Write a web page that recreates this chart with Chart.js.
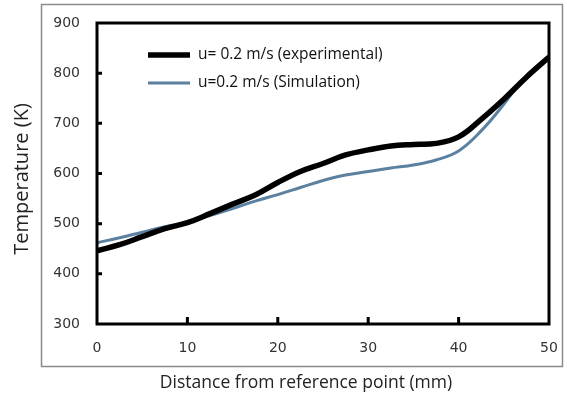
<!DOCTYPE html>
<html>
<head>
<meta charset="utf-8">
<script src="https://cdn.jsdelivr.net/npm/chart.js@4.4.0/dist/chart.umd.min.js"></script>
<style>
html, body { margin: 0; padding: 0; background: #fff; }
</style>
</head>
<body>
<canvas id="tempChart" width="567" height="401"></canvas>
<script>
// data
const distanceExp = [0, 2.5, 5, 7.5, 10, 12.5, 15, 17.5, 20, 22.5, 25, 27.5, 30, 32.5, 35, 37.5, 40, 42.5, 45, 47.5, 50];
const tempExp = [446, 458, 474, 490, 502, 520, 539, 557, 582, 604, 620, 637, 647, 655, 658, 660, 673, 708, 748, 792, 832];

const distanceSim = [0, 2.5, 5, 7.5, 10, 12.5, 15, 17.5, 20, 22.5, 25, 27.5, 30, 32.5, 35, 37.5, 40, 42.5, 45, 46.5];
const tempSim = [462, 472, 483, 494, 503, 516, 530, 545, 558, 572, 586, 597, 604, 611, 617, 627, 645, 685, 738, 775];

const xTicks = [0, 10, 20, 30, 40, 50];
const yTicks = [300, 400, 500, 600, 700, 800, 900];

const labels = ['u= 0.2 m/s (experimental)', 'u=0.2 m/s (Simulation)'];
const xTitle = 'Distance from reference point (mm)';
const yTitle = 'Temperature (K)';

function toPoints(xs, ys) {
    return xs.map((x, i) => ({ x: x, y: ys[i] }));
}

// grey outer frame
const framePlugin = {
    id: 'frame',
    beforeDraw(chart) {
        const ctx = chart.ctx;
        ctx.save();
        ctx.strokeStyle = '#8a8a8a';
        ctx.lineWidth = 1.5;
        ctx.strokeRect(41.5, 4.5, 521, 362);
        ctx.restore();
    }
};

// thick box round the plot and inward tick marks
const boxPlugin = {
    id: 'box',
    afterDatasetsDraw(chart) {
        const ctx = chart.ctx;
        const a = chart.chartArea;
        const xs = chart.scales.x;
        const ys = chart.scales.y;
        ctx.save();
        ctx.strokeStyle = '#000';
        ctx.lineWidth = 3;
        ctx.strokeRect(a.left, a.top, a.right - a.left, a.bottom - a.top);
        ctx.beginPath();
        yTicks.slice(1, -1).forEach(v => {
            const y = ys.getPixelForValue(v);
            ctx.moveTo(a.left, y);
            ctx.lineTo(a.left + 5, y);
        });
        xTicks.slice(1, -1).forEach(v => {
            const x = xs.getPixelForValue(v);
            ctx.moveTo(x, a.bottom);
            ctx.lineTo(x, a.bottom - 7);
        });
        ctx.stroke();
        ctx.restore();
    }
};

// legend inside the plot and the two axis titles (centred on the frame, not the plot)
const textPlugin = {
    id: 'texts',
    afterDraw(chart) {
        const ctx = chart.ctx;
        ctx.save();
        ctx.font = '15.5px "Open Sans"';
        ctx.textBaseline = 'middle';
        chart.data.datasets.forEach((ds, i) => {
            const y = 55 + i * 28;
            ctx.strokeStyle = ds.borderColor;
            ctx.lineWidth = ds.borderWidth;
            ctx.beginPath();
            ctx.moveTo(148, y);
            ctx.lineTo(190, y);
            ctx.stroke();
            ctx.fillStyle = '#111';
            ctx.fillText(ds.label, 198, y);
        });

        ctx.fillStyle = '#222';
        ctx.textAlign = 'center';
        ctx.font = '17.5px "Open Sans"';
        ctx.fillText(xTitle, 306, 383);

        ctx.translate(22, 179);
        ctx.rotate(-Math.PI / 2);
        ctx.font = '20px "Open Sans"';
        ctx.fillText(yTitle, 0, 0);
        ctx.restore();
    }
};

const tickFont = { family: 'DejaVu Sans', size: 14 };

const ctx = document.getElementById('tempChart').getContext('2d');
const tempChart = new Chart(ctx, {
    type: 'line',
    data: {
        datasets: [{
            label: labels[0],
            data: toPoints(distanceExp, tempExp),
            borderColor: '#000000',
            borderWidth: 5.5,
            pointRadius: 0,
            tension: 0.4,
            order: 0
        }, {
            label: labels[1],
            data: toPoints(distanceSim, tempSim),
            borderColor: '#5b80a0',
            borderWidth: 3,
            pointRadius: 0,
            tension: 0.4,
            order: 1
        }]
    },
    options: {
        responsive: false,
        animation: false,
        layout: {
            padding: { left: 0, right: 18, top: 23, bottom: 0 }
        },
        plugins: {
            legend: { display: false },
            tooltip: { enabled: false }
        },
        scales: {
            x: {
                type: 'linear',
                min: 0,
                max: 50,
                afterBuildTicks: s => { s.ticks = xTicks.map(v => ({ value: v })); },
                afterFit: s => { s.height = 77; s.paddingLeft = 0; s.paddingRight = 0; },
                grid: { display: false, drawTicks: false },
                border: { display: false },
                ticks: {
                    padding: 16,
                    color: '#333',
                    font: tickFont
                }
            },
            y: {
                min: 300,
                max: 900,
                afterBuildTicks: s => { s.ticks = yTicks.map(v => ({ value: v })); },
                afterFit: s => { s.width = 97; s.paddingTop = 0; s.paddingBottom = 0; },
                grid: { display: false, drawTicks: false },
                border: { display: false },
                ticks: {
                    padding: 17,
                    color: '#333',
                    font: tickFont
                }
            }
        }
    },
    plugins: [framePlugin, boxPlugin, textPlugin]
});
</script>
</body>
</html>
